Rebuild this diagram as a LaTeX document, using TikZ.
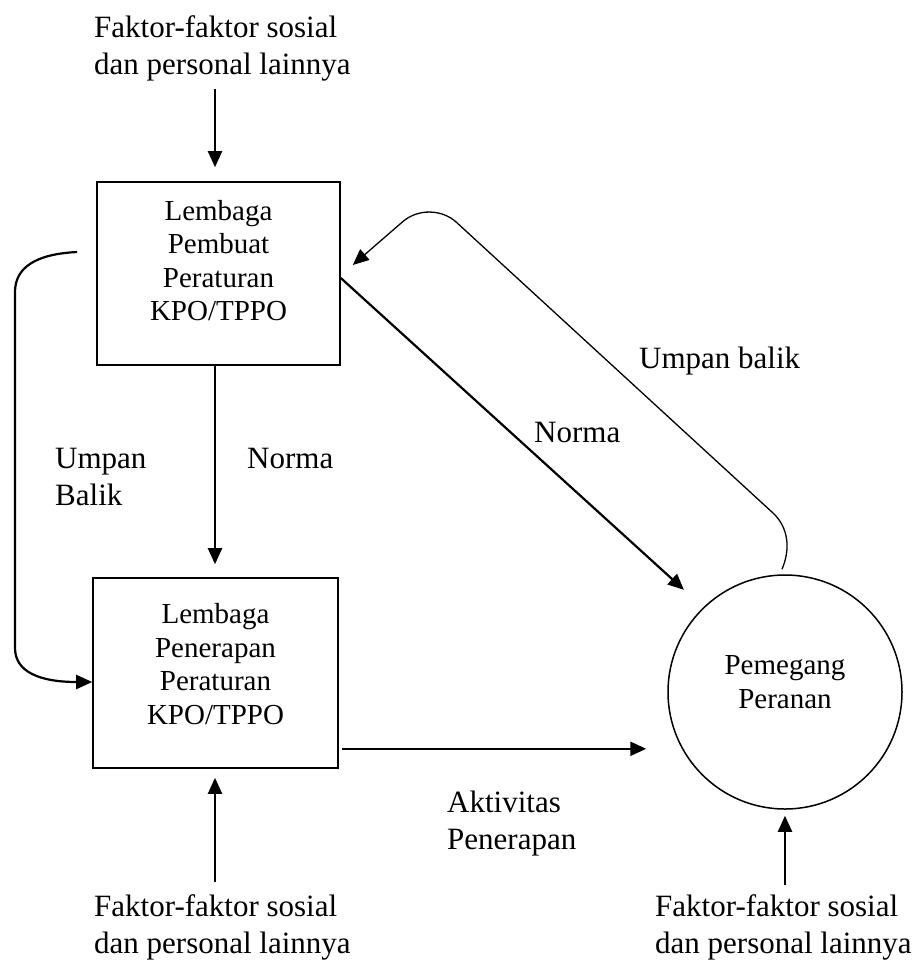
\documentclass[tikz,border=0pt]{standalone}
\usepackage{fontspec}
\setmainfont{Liberation Serif}
\usetikzlibrary{arrows.meta}

\begin{document}
\begin{tikzpicture}[x=1pt,y=-1pt,
  kotak/.style={draw,line width=1.6pt,align=center,inner sep=0pt,font=\fontsize{29}{33.4}\selectfont},
  teks/.style={align=left,inner sep=0pt,anchor=north west,font=\fontsize{31}{37}\selectfont},
  ujung/.style={-{Triangle[length=16pt,width=14pt]}},
  panah/.style={ujung,line width=2.2pt},
  tipis/.style={ujung,line width=1.3pt}]
\useasboundingbox (0,0) rectangle (922,962);

\node[kotak,minimum width=243pt,minimum height=183pt,text depth=26pt] (pembuat) at (218.5,273.5) {Lembaga\\Pembuat\\Peraturan\\KPO/TPPO};
\node[kotak,minimum width=245pt,minimum height=190pt,text depth=18pt] (penerapan) at (215.5,673) {Lembaga\\Penerapan\\Peraturan\\KPO/TPPO};
\node[kotak,circle,minimum size=234pt,line width=1.5pt,text depth=20pt] (pemegang) at (785,692) {Pemegang\\Peranan};

\node[teks] (faktoratas) at (94,15) {Faktor-faktor sosial\\dan personal lainnya};
\node[teks] (faktorkiri) at (94,894) {Faktor-faktor sosial\\dan personal lainnya};
\node[teks] (faktorkanan) at (655,894) {Faktor-faktor sosial\\dan personal lainnya};

\node[teks] (umpankiri) at (55,448) {Umpan\\Balik};
\node[teks] (normategak) at (247,448) {Norma};
\node[teks] (normamiring) at (534,421.5) {Norma};
\node[teks] (umpankanan) at (639,347) {Umpan balik};
\node[teks] (aktivitas) at (447,791) {Aktivitas\\Penerapan};

% panah masuk dari faktor lain
\draw[panah,shorten <=8pt,shorten >=14pt] (faktoratas.south -| 215,0) -- (pembuat.north -| 215,0);
\draw[panah,shorten <=12pt,shorten >=9pt] (faktorkiri.north -| 215,0) -- (penerapan.south -| 215,0);
\draw[panah,shorten <=9pt,shorten >=6pt] (faktorkanan.north -| pemegang.south) -- (pemegang.south);

% norma
\draw[panah,shorten >=13pt] (pembuat.south -| 215,0) -- (penerapan.north -| 215,0);
\draw[panah,shorten >=26pt] ([yshift=-4.5pt]pembuat.east) -- (pemegang.134);

% aktivitas penerapan
\coordinate (aktA) at ([xshift=3pt,yshift=20pt]penerapan.south east);
\draw[panah,shorten >=21pt] (aktA) -- (aktA -| pemegang.west);

% umpan balik
\draw[panah] ([xshift=-19pt,yshift=21.5pt]pembuat.west) .. controls (35,254) and (15,268) .. (15,292)
  -- (15,648) .. controls (15,672) and (40,682) .. ([yshift=-9pt]penerapan.west);
\draw[tipis] ([xshift=-3pt,yshift=5pt]pemegang.north) .. controls (791,548) and (788,527) .. (773,513)
  [rounded corners=36pt] -- (430,198) -- ([xshift=12pt,yshift=8.5pt]pembuat.east);
\end{tikzpicture}
\end{document}
